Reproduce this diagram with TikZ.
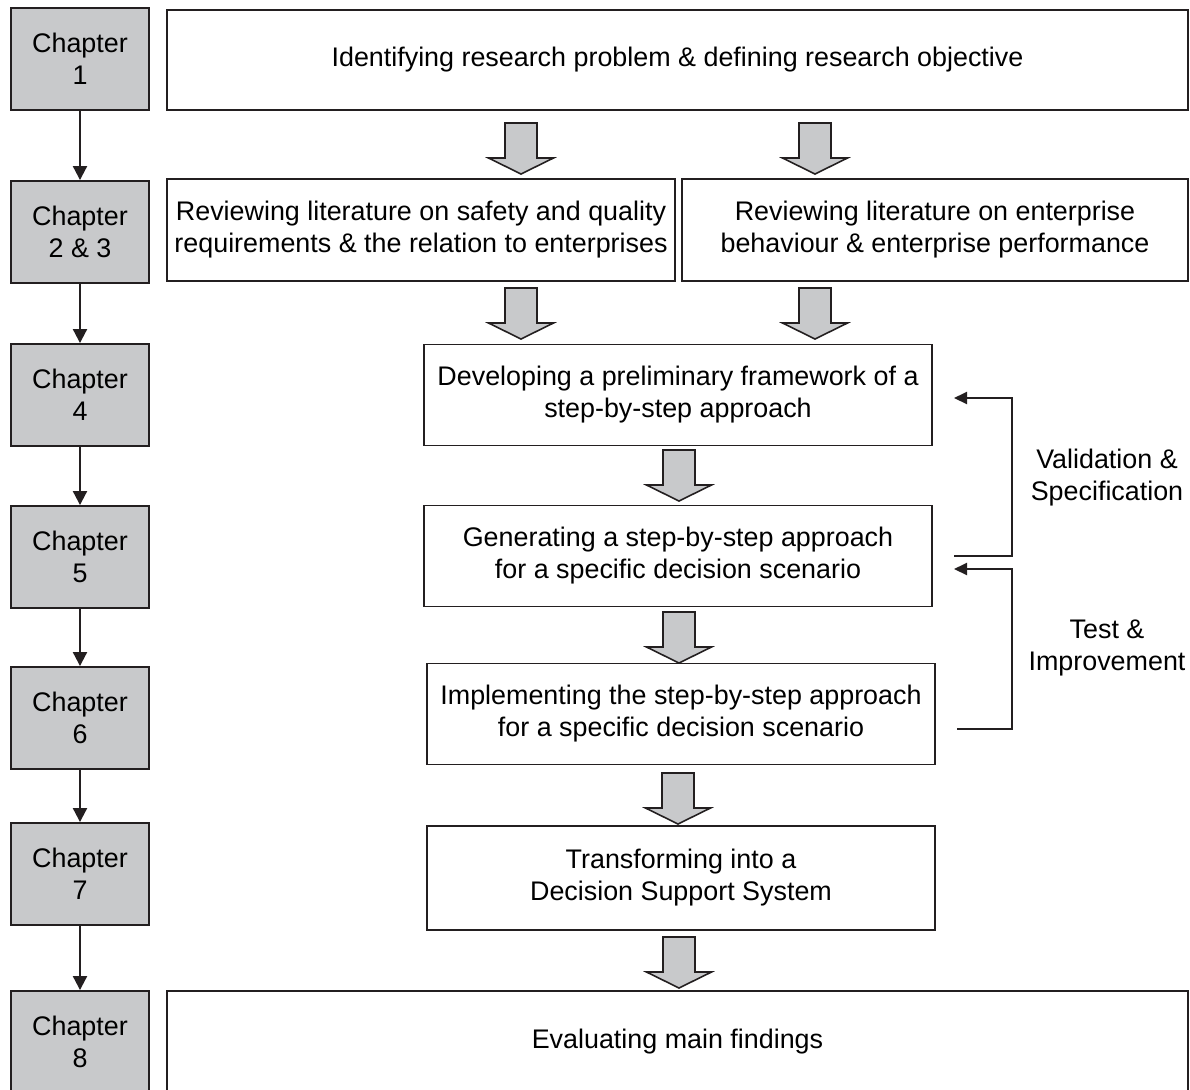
\documentclass[tikz,border=0pt]{standalone}
\usepackage{fontspec}
\setmainfont{Liberation Sans}
\usetikzlibrary{arrows.meta}
\definecolor{chapgray}{RGB}{200,201,203}
\definecolor{inkline}{RGB}{35,31,32}

\begin{document}
\begin{tikzpicture}[x=0.02cm, y=-0.02cm,
    chapter/.style={draw=inkline, fill=chapgray, line width=1.1pt, minimum width=2.76cm,
        minimum height=2.04cm, inner sep=0pt, align=center, font=\fontsize{15.3}{18.2}\selectfont},
    stage/.style={draw=inkline, fill=white, line width=1.1pt, minimum height=2.02cm,
        inner sep=0pt, align=center, font=\fontsize{15.3}{18.2}\selectfont},
    loopnote/.style={align=center, font=\fontsize{15.3}{18.2}\selectfont},
    next/.style={draw=inkline, line width=1.2pt, -{Triangle[length=2.8mm, width=2.8mm]}},
    feedback/.style={draw=inkline, line width=1.2pt, -{Triangle[length=2.6mm, width=2.4mm]}},
    blockarrow/.pic={
        \draw[draw=inkline, fill=chapgray, line width=0.9pt]
            (-16,0) -- (16,0) -- (16,35) -- (32.5,35) -- (0,51) -- (-32.5,35) -- (-16,35) -- cycle;
    }]
    % Frame
    \useasboundingbox (0,0) rectangle (1190,1089);

    % Chapters
    \node[chapter] (ch1) at (80,59) {Chapter\\1};
    \node[chapter] (ch23) at (80,232) {Chapter\\2 \& 3};
    \node[chapter] (ch4) at (80,395) {Chapter\\4};
    \node[chapter] (ch5) at (80,557) {Chapter\\5};
    \node[chapter] (ch6) at (80,718) {Chapter\\6};
    \node[chapter] (ch7) at (80,874) {Chapter\\7};
    \node[chapter] (ch8) at (80,1042) {Chapter\\8};

    \foreach \a/\b in {ch1/ch23, ch23/ch4, ch4/ch5, ch5/ch6, ch6/ch7, ch7/ch8}
        \draw[next] (\a.south) -- (\b.north);

    % Stages
    \node[stage, minimum width=20.42cm, minimum height=2.0cm] (problem) at (677.5,60)
        {Identifying research problem \& defining research objective};
    \node[stage, minimum width=10.16cm, minimum height=2.04cm] (litsafety) at (421,230)
        {Reviewing literature on safety and quality\\requirements \& the relation to enterprises};
    \node[stage, minimum width=10.12cm, minimum height=2.04cm] (litbehav) at (935,230)
        {Reviewing literature on enterprise\\behaviour \& enterprise performance};
    \node[stage, minimum width=10.16cm] (develop) at (678,395)
        {Developing a preliminary framework of a\\step-by-step approach};
    \node[stage, minimum width=10.16cm] (generate) at (678,556)
        {Generating a step-by-step approach\\for a specific decision scenario};
    \node[stage, minimum width=10.16cm] (implement) at (681,714)
        {Implementing the step-by-step approach\\for a specific decision scenario};
    \node[stage, minimum width=10.16cm, minimum height=2.08cm] (transform) at (681,878)
        {Transforming into a\\Decision Support System};
    \node[stage, minimum width=20.42cm, minimum height=2.04cm] (evaluate) at (677.5,1042)
        {Evaluating main findings};

    % Block arrows
    \pic at (521,123) {blockarrow};
    \pic at (815,123) {blockarrow};
    \pic at (521,288) {blockarrow};
    \pic at (815,288) {blockarrow};
    \pic at (679,450) {blockarrow};
    \pic at (679,612) {blockarrow};
    \pic at (678,773) {blockarrow};
    \pic at (679,937) {blockarrow};

    % Loops back
    \coordinate (vsFrom) at (954,556);
    \coordinate (vsTo) at (954,398);
    \coordinate (tiFrom) at (957,729);
    \coordinate (tiTo) at (954,569);
    \draw[feedback] (vsFrom) -- (1012,556) -- (1012,398) -- (vsTo);
    \draw[feedback] (tiFrom) -- (1012,729) -- (1012,569) -- (tiTo);

    \node[loopnote] (vsnote) at (1107,478) {Validation \&\\Specification};
    \node[loopnote] (tinote) at (1107,648) {Test \&\\Improvement};
\end{tikzpicture}
\end{document}
